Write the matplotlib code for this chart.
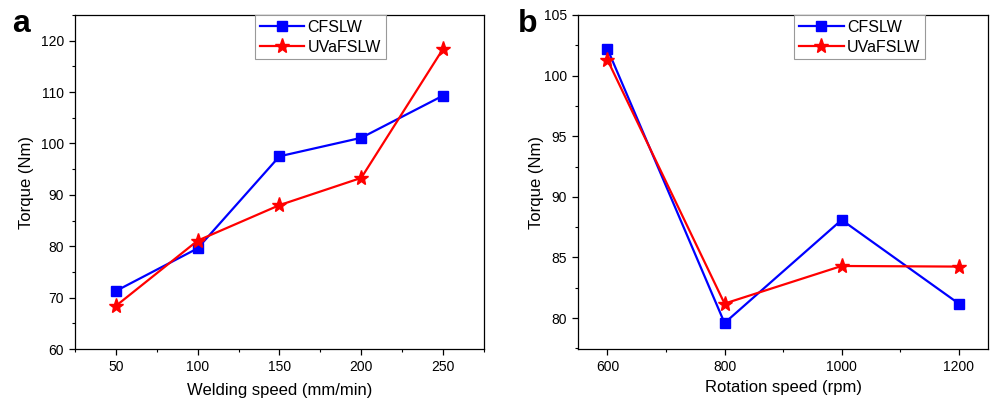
import matplotlib
matplotlib.use("Agg")
import matplotlib.pyplot as plt
from matplotlib.ticker import MultipleLocator

plt.rcParams['font.family'] = ['Liberation Sans', 'DejaVu Sans']

# panel a: torque vs welding speed
weld_speed = [50, 100, 150, 200, 250]
cfslw_a = [71.3, 79.6, 97.5, 101.1, 109.3]
uva_a = [68.4, 81.1, 88.0, 93.3, 118.4]

# panel b: torque vs rotation speed
rot_speed = [600, 800, 1000, 1200]
cfslw_b = [102.2, 79.6, 88.1, 81.2]
uva_b = [101.3, 81.2, 84.3, 84.25]

fig = plt.figure(figsize=(9.9, 4.04), dpi=100)
ax1 = fig.add_axes([0.0758, 0.136, 0.413, 0.827])
ax2 = fig.add_axes([0.584, 0.136, 0.414, 0.827])


def draw(ax, x, y1, y2):
    ax.plot(x, y1, color='#0000ff', lw=1.6, marker='s', ms=6.5, label='CFSLW')
    ax.plot(x, y2, color='#ff0000', lw=1.6, marker='*', ms=11, label='UVaFSLW')
    ax.tick_params(which='major', direction='out', length=4.5, width=0.9, labelsize=10)
    ax.tick_params(which='minor', direction='out', length=2.5, width=0.8)
    for s in ax.spines.values():
        s.set_linewidth(0.9)
    leg = ax.legend(loc='upper center', bbox_to_anchor=(0.5, 1.0), fontsize=11.5,
                    fancybox=False, edgecolor='#999999', framealpha=1,
                    handlelength=2.8, borderpad=0.3, labelspacing=0.3,
                    handletextpad=0.2, borderaxespad=0.0)
    leg.get_frame().set_linewidth(0.8)


draw(ax1, weld_speed, cfslw_a, uva_a)
ax1.set_xlim(25, 275)
ax1.set_ylim(60, 125)
ax1.xaxis.set_major_locator(MultipleLocator(50))
ax1.xaxis.set_minor_locator(MultipleLocator(25))
ax1.yaxis.set_major_locator(MultipleLocator(10))
ax1.yaxis.set_minor_locator(MultipleLocator(5))
ax1.set_xlabel('Welding speed (mm/min)', fontsize=12, labelpad=6)
ax1.set_ylabel('Torque (Nm)', fontsize=12, labelpad=5)
ax1.get_legend().set_bbox_to_anchor((0.6, 1.0))

draw(ax2, rot_speed, cfslw_b, uva_b)
ax2.set_xlim(550, 1250)
ax2.set_ylim(77.45, 105)
ax2.xaxis.set_major_locator(MultipleLocator(200))
ax2.xaxis.set_minor_locator(MultipleLocator(100))
ax2.yaxis.set_major_locator(MultipleLocator(5))
ax2.yaxis.set_minor_locator(MultipleLocator(2.5))
ax2.set_xlabel('Rotation speed (rpm)', fontsize=12, labelpad=4)
ax2.set_ylabel('Torque (Nm)', fontsize=12, labelpad=0)
ax2.get_legend().set_bbox_to_anchor((0.687, 1.0))

fig.text(0.012, 0.921, 'a', fontsize=23, fontweight='bold')
fig.text(0.523, 0.921, 'b', fontsize=23, fontweight='bold')

fig.savefig('out.png', dpi=100)
